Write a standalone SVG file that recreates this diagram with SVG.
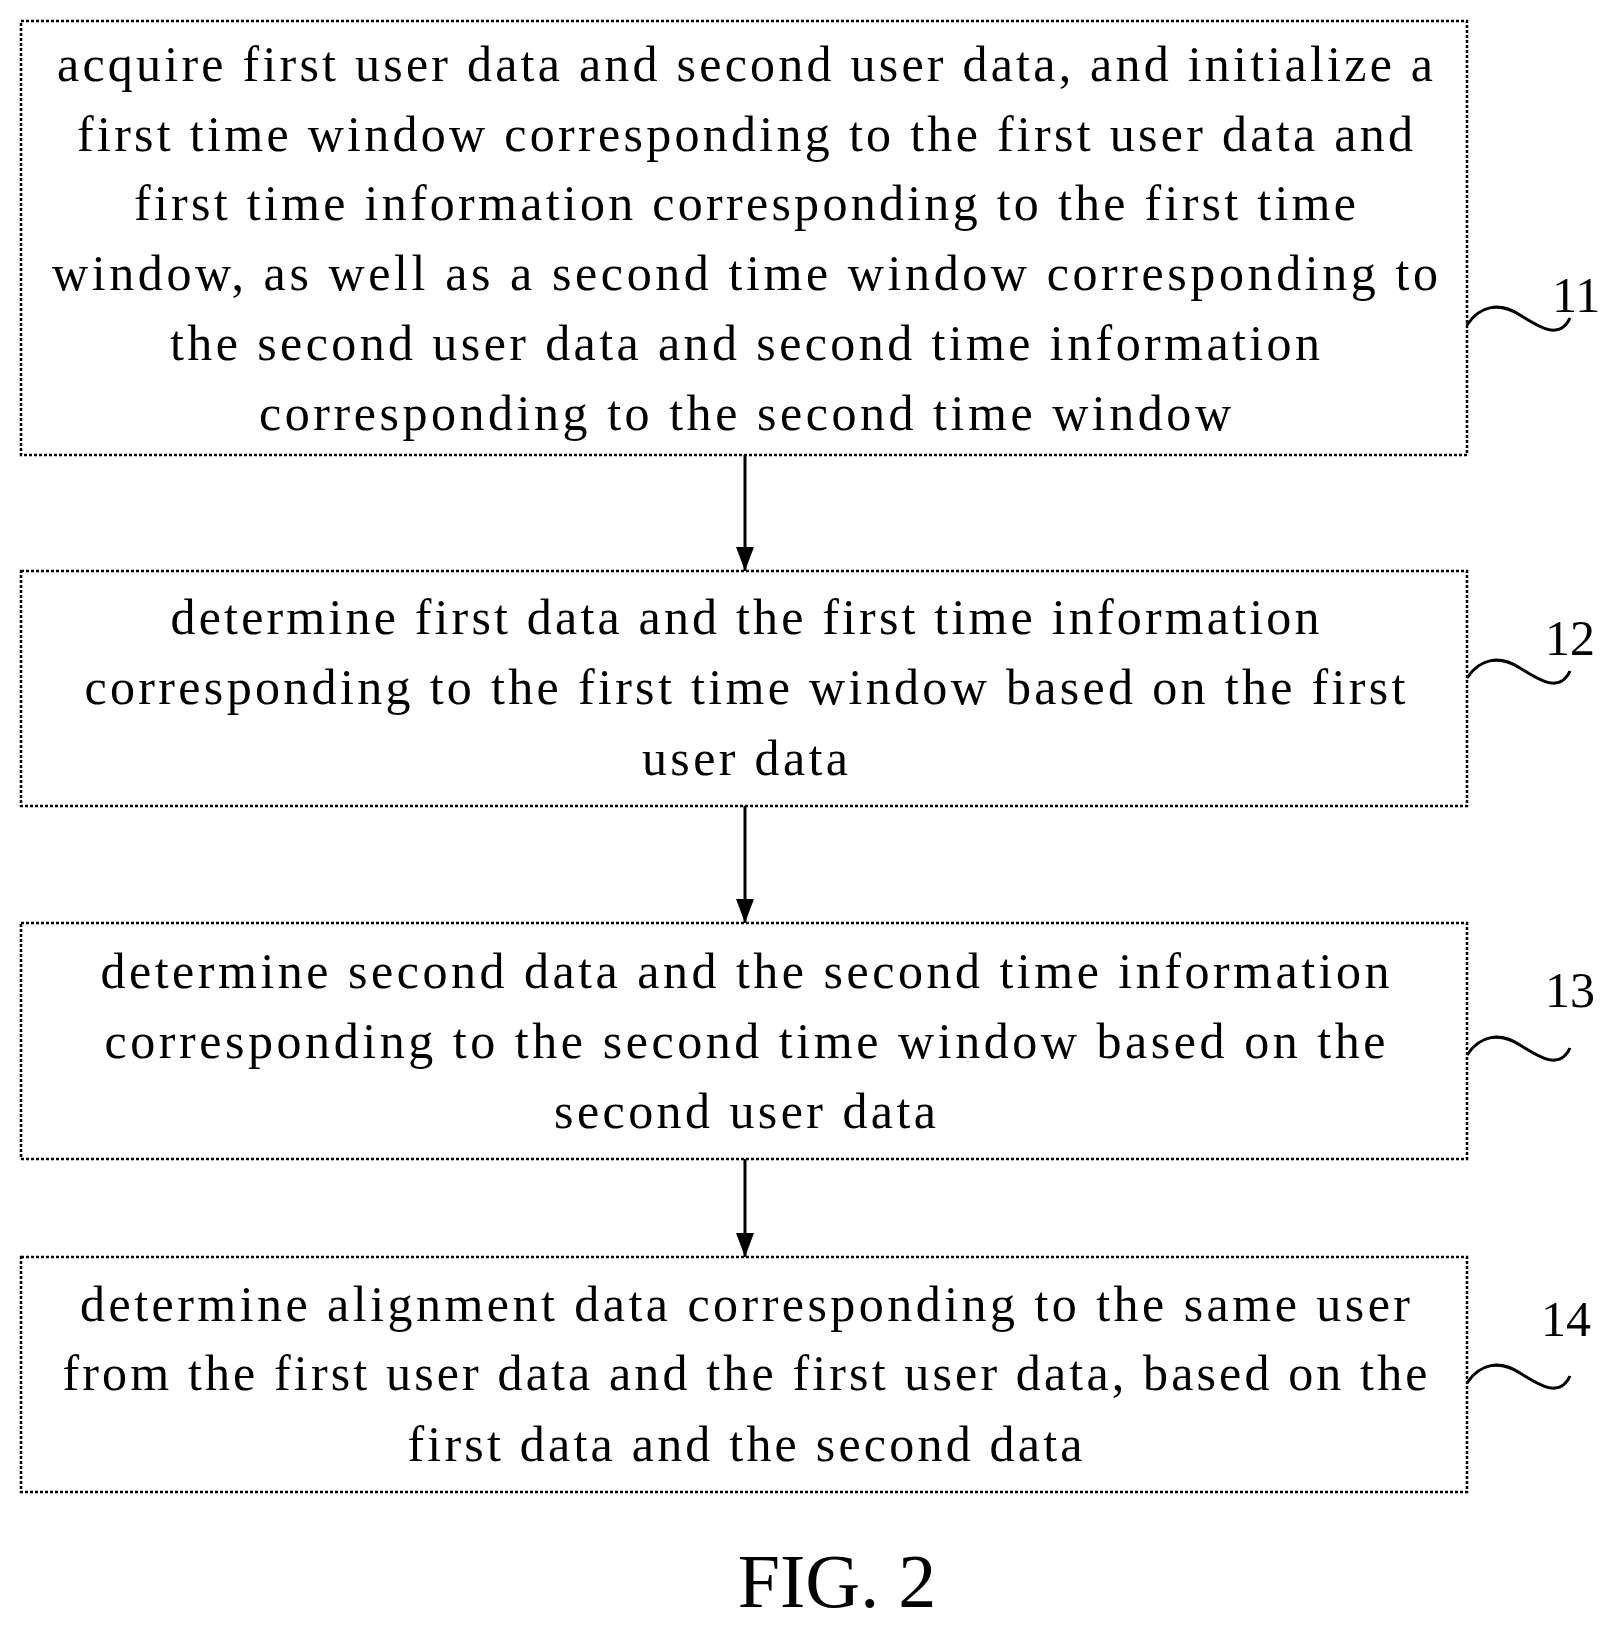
<svg xmlns="http://www.w3.org/2000/svg" width="1622" height="1628" viewBox="0 0 1622 1628">
<style>
.b{fill:none;stroke:#000;stroke-width:2.5;stroke-dasharray:3 2}
.t{font-family:"Liberation Serif",serif;font-size:50px;text-anchor:middle}
.l{font-family:"Liberation Serif",serif;font-size:50px}
.w{fill:none;stroke:#000;stroke-width:3}
.c{stroke:#000;stroke-width:3;marker-end:url(#a)}
</style>
<defs><marker id="a" markerWidth="24" markerHeight="18" refX="24" refY="9" orient="auto" markerUnits="userSpaceOnUse" viewBox="0 0 24 18"><path d="M0,0L24,9L0,18z"/></marker></defs>
<rect width="1622" height="1628" fill="#fff"/>
<g id="n11"><rect class="b" x="21" y="21" width="1446" height="434"/>
<text class="t" lengthAdjust="spacing"><tspan x="745" y="81" textLength="1376">acquire first user data and second user data, and initialize a</tspan><tspan x="745" y="151" textLength="1336">first time window corresponding to the first user data and</tspan><tspan x="745" y="220" textLength="1222">first time information corresponding to the first time</tspan><tspan x="745" y="290" textLength="1386">window, as well as a second time window corresponding to</tspan><tspan x="745" y="360" textLength="1150">the second user data and second time information</tspan><tspan x="745" y="430" textLength="972">corresponding to the second time window</tspan></text>
<path class="w" d="M1467,325C1480,305 1500,302 1520,315S1560,340 1570,318"/><text class="l" x="1552" y="312">11</text></g>
<g id="n12"><rect class="b" x="21" y="571" width="1446" height="235"/>
<text class="t" lengthAdjust="spacing"><tspan x="745" y="634" textLength="1149">determine first data and the first time information</tspan><tspan x="745" y="704" textLength="1321">corresponding to the first time window based on the first</tspan><tspan x="745" y="775" textLength="206">user data</tspan></text>
<path class="w" d="M1467,678C1480,658 1500,655 1520,668S1560,693 1570,671"/><text class="l" x="1545" y="655">12</text></g>
<g id="n13"><rect class="b" x="21" y="923" width="1446" height="236"/>
<text class="t" lengthAdjust="spacing"><tspan x="745" y="988" textLength="1289">determine second data and the second time information</tspan><tspan x="745" y="1058" textLength="1281">corresponding to the second time window based on the</tspan><tspan x="745" y="1128" textLength="382">second user data</tspan></text>
<path class="w" d="M1467,1055C1480,1035 1500,1032 1520,1045S1560,1070 1570,1048"/><text class="l" x="1545" y="1007">13</text></g>
<g id="n14"><rect class="b" x="21" y="1257" width="1446" height="235"/>
<text class="t" lengthAdjust="spacing"><tspan x="745" y="1321" textLength="1330">determine alignment data corresponding to the same user</tspan><tspan x="745" y="1390" textLength="1365">from the first user data and the first user data, based on the</tspan><tspan x="745" y="1461" textLength="675">first data and the second data</tspan></text>
<path class="w" d="M1467,1383C1480,1363 1500,1360 1520,1373S1560,1398 1570,1376"/><text class="l" x="1541" y="1336">14</text></g>
<g id="connectors">
<line class="c" x1="745" y1="455" x2="745" y2="571"/>
<line class="c" x1="745" y1="806" x2="745" y2="923"/>
<line class="c" x1="745" y1="1159" x2="745" y2="1257"/>
</g>
<text x="837" y="1607" style="font-family:'Liberation Serif',serif;font-size:76px;text-anchor:middle">FIG. 2</text>
</svg>
